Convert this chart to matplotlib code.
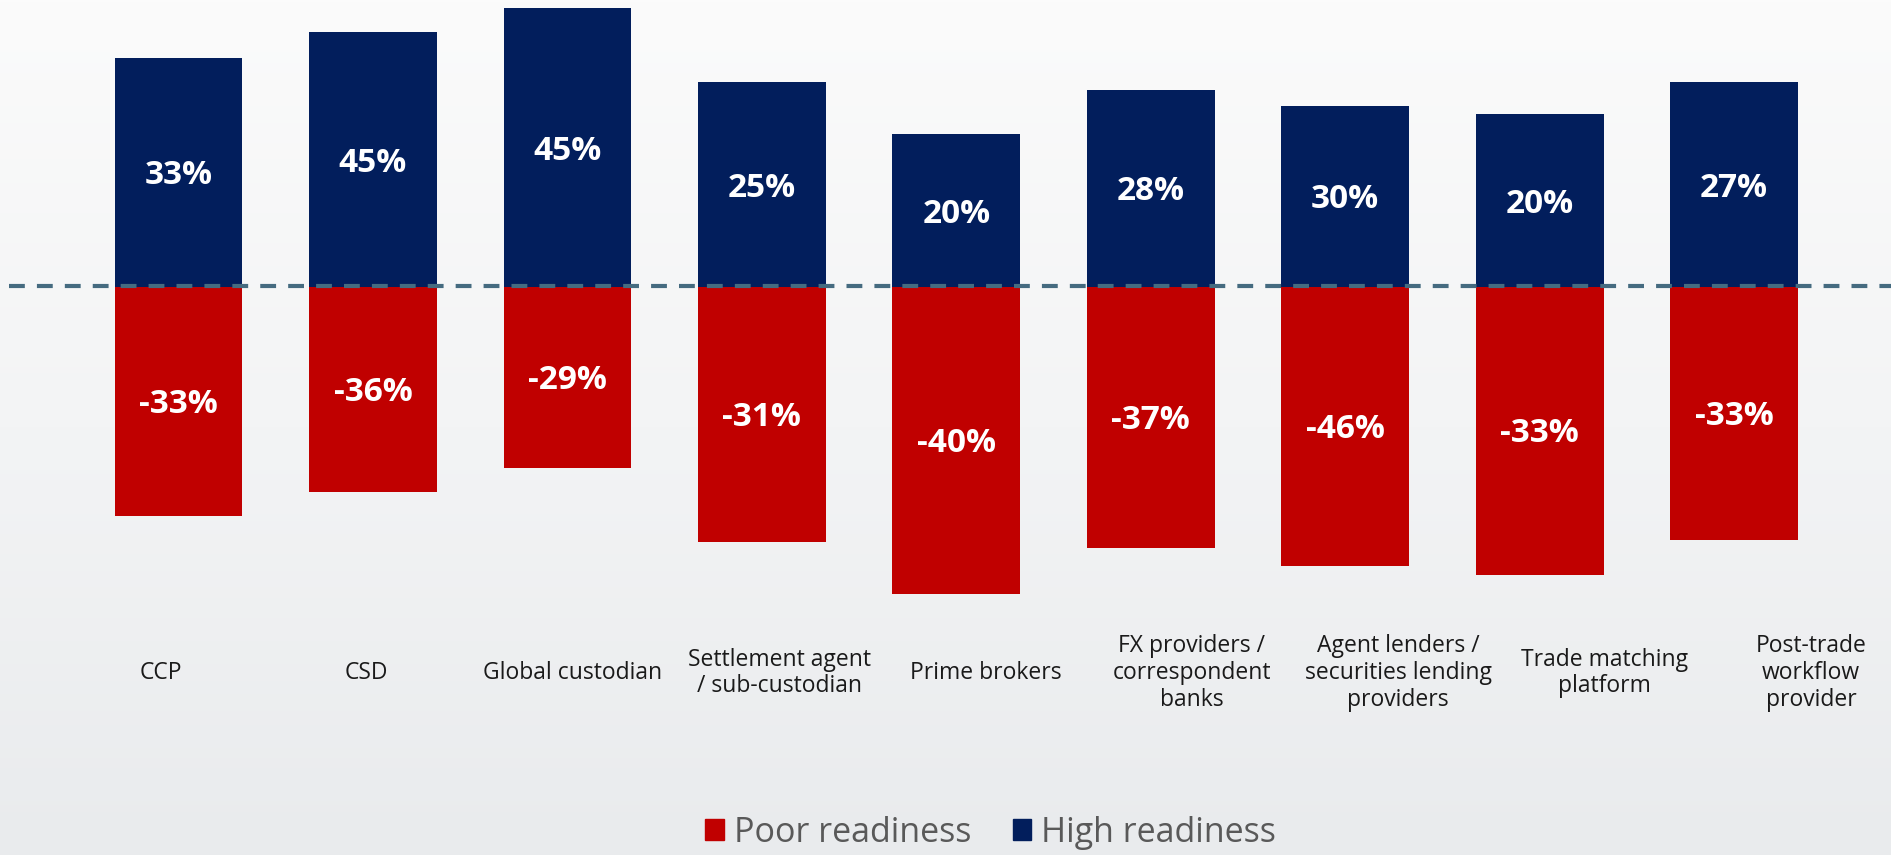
import numpy as np
import matplotlib.pyplot as plt
from matplotlib.patches import Patch

categories = ["CCP", "CSD", "Global custodian", "Settlement agent\n/ sub-custodian",
              "Prime brokers", "FX providers /\ncorrespondent\nbanks",
              "Agent lenders /\nsecurities lending\nproviders", "Trade matching\nplatform",
              "Post-trade\nworkflow\nprovider"]
high_labels = [33, 45, 45, 25, 20, 28, 30, 20, 27]
poor_labels = [-33, -36, -29, -31, -40, -37, -46, -33, -33]
# bar lengths as drawn in the picture (they don't follow the printed labels)
high_heights = [33.0, 36.7, 40.2, 29.5, 22.0, 28.4, 26.1, 24.9, 29.5]
poor_heights = [-33.0, -29.5, -26.1, -36.7, -44.2, -37.6, -40.2, -41.4, -36.5]

navy = "#021e5c"
red = "#c00000"

fig = plt.figure(figsize=(18.91, 8.55), dpi=100)

# light grey background
bg = fig.add_axes([0, 0, 1, 1], zorder=-1)
grad = np.linspace(0, 1, 256).reshape(-1, 1)
bg.imshow(grad, aspect="auto", cmap=plt.matplotlib.colors.LinearSegmentedColormap.from_list(
    "bg", ["#fbfbfb", "#f3f4f5", "#e9ebed"]), extent=[0, 1, 0, 1])
bg.axis("off")

ax = fig.add_axes([0, 0, 1, 1])
ax.patch.set_alpha(0)
x = np.arange(len(categories))

ax.bar(x, high_heights, width=0.657, color=navy)
ax.bar(x, poor_heights, width=0.657, color=red)
ax.axhline(0.15, xmin=0.005, xmax=1, color="#456b80", lw=3, dashes=(3.8, 2.9))

for i in range(len(categories)):
    ax.text(x[i], high_heights[i] / 2 - 0.5, f"{high_labels[i]}%", ha="center", va="center",
            color="white", fontsize=24, fontweight="bold", family="Open Sans")
    ax.text(x[i], poor_heights[i] / 2 - 0.4, f"{poor_labels[i]}%", ha="center", va="center",
            color="white", fontsize=24, fontweight="bold", family="Open Sans")
    # category names sit on a slightly wider grid than the bars
    ax.text(i * 1.061 - 0.093, -55.6, categories[i], ha="center", va="center",
            multialignment="center", color="#1a1a1a", fontsize=16.5, family="Open Sans",
            linespacing=1.15)

ax.set_xlim(-0.918, 8.807)
ax.set_ylim(-81.8, 41.35)
ax.axis("off")

handles = [Patch(color=red, label="Poor readiness"), Patch(color=navy, label="High readiness")]
fig.legend(handles=handles, loc="center", bbox_to_anchor=(0.524, 0.026), ncol=2, frameon=False,
           handlelength=0.55, handleheight=0.55, handletextpad=0.3, columnspacing=1.2,
           prop={"family": "Open Sans", "size": 24.5}, labelcolor="#595959",
           borderpad=0.1)

fig.savefig("out.png", dpi=100)
